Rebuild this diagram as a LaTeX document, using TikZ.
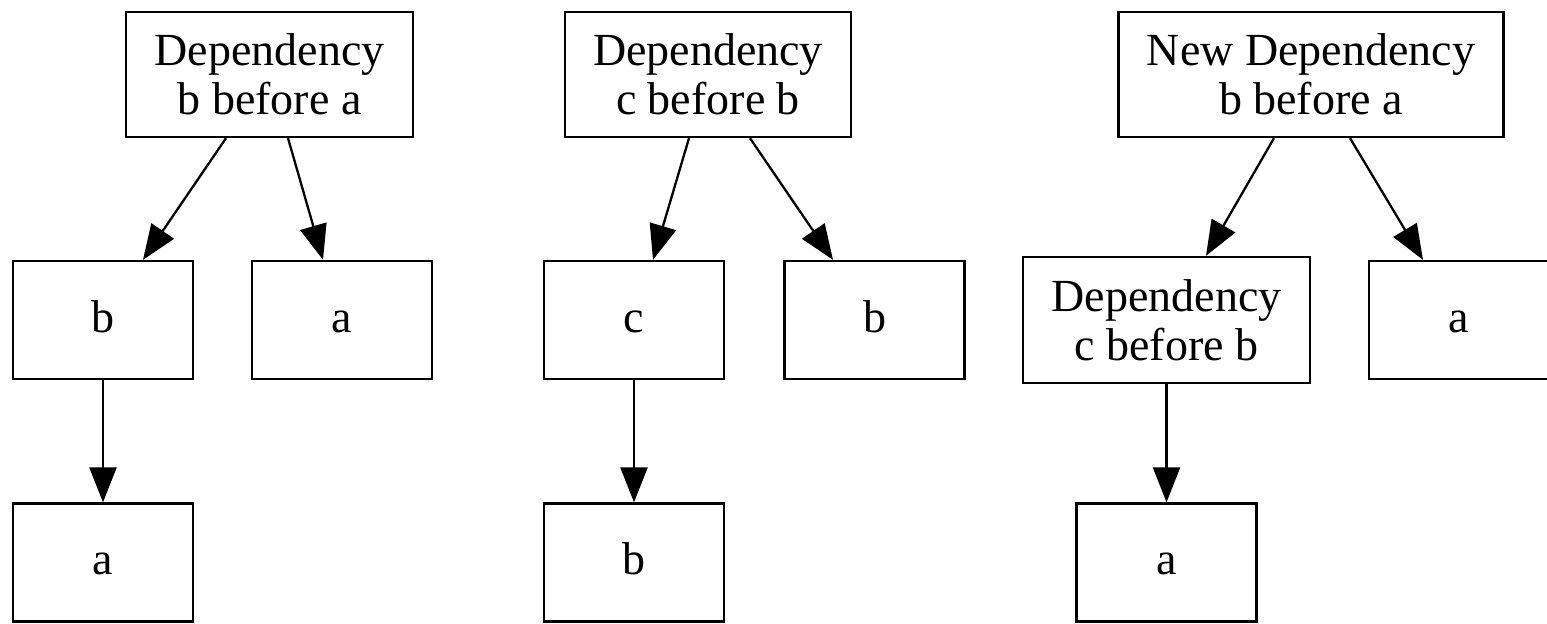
\documentclass[tikz,border=0pt]{standalone}
\usepackage{fontspec}
\setmainfont{Liberation Serif}
\usetikzlibrary{arrows.meta}

\begin{document}
\begin{tikzpicture}[
  x=0.5pt, y=-0.5pt,
  box/.style 2 args={draw, line width=1.15pt, rectangle, inner sep=0pt,
    align=center, minimum width=#1*0.5pt, minimum height=#2*0.5pt,
    font=\fontsize{23}{24.5}\selectfont},
  letter/.style={text height=16pt, text depth=4pt},
  edge/.style={line width=1.15pt, -{Triangle[length=17.5pt,width=13.5pt]}}
]
\fill[white] (0,0) rectangle (1547,623);
\useasboundingbox (0,0) rectangle (1547,623);

% first tree: b before a
\node[box={287}{125}] (t1)  at (269.5,74.5) {Dependency\\b before a};
\node[box={180}{118}, letter] (b1)  at (103,320)    {b};
\node[box={180}{118}, letter] (a1)  at (342,320)    {a};
\node[box={180}{118}, letter] (a1b) at (103,562.5)  {a};

% second tree: c before b
\node[box={286}{125}] (t2)  at (708,74.5)   {Dependency\\c before b};
\node[box={180}{118}, letter] (c2)  at (634,320)    {c};
\node[box={180}{118}, letter] (b2)  at (874.5,320)  {b};
\node[box={180}{118}, letter] (b2b) at (634,562.5)  {b};

% combined tree
\node[box={385}{125}] (t3)  at (1311,74.5)  {New Dependency\\b before a};
\node[box={287}{126}] (d3)  at (1166.5,320) {Dependency\\c before b};
\node[box={180}{118}, letter] (a3)  at (1459,320)   {a};
\node[box={180}{118}, letter] (a3b) at (1166.5,562.5) {a};

% connectors
\draw[edge] ([xshift=-21.75pt]t1.south) -- ([xshift=20pt]b1.north);
\draw[edge] ([xshift=9.25pt]t1.south) -- ([xshift=-9.5pt]a1.north);
\draw[edge] (b1) -- (a1b);

\draw[edge] ([xshift=-9.5pt]t2.south) -- ([xshift=9.5pt]c2.north);
\draw[edge] ([xshift=21pt]t2.south) -- ([xshift=-20.75pt]b2.north);
\draw[edge] (c2) -- (b2b);

\draw[edge] ([xshift=-18.5pt]t3.south) -- ([xshift=19.75pt]d3.north);
\draw[edge] ([xshift=19.5pt]t3.south) -- ([xshift=-18pt]a3.north);
\draw[edge] (d3) -- (a3b);
\end{tikzpicture}
\end{document}
